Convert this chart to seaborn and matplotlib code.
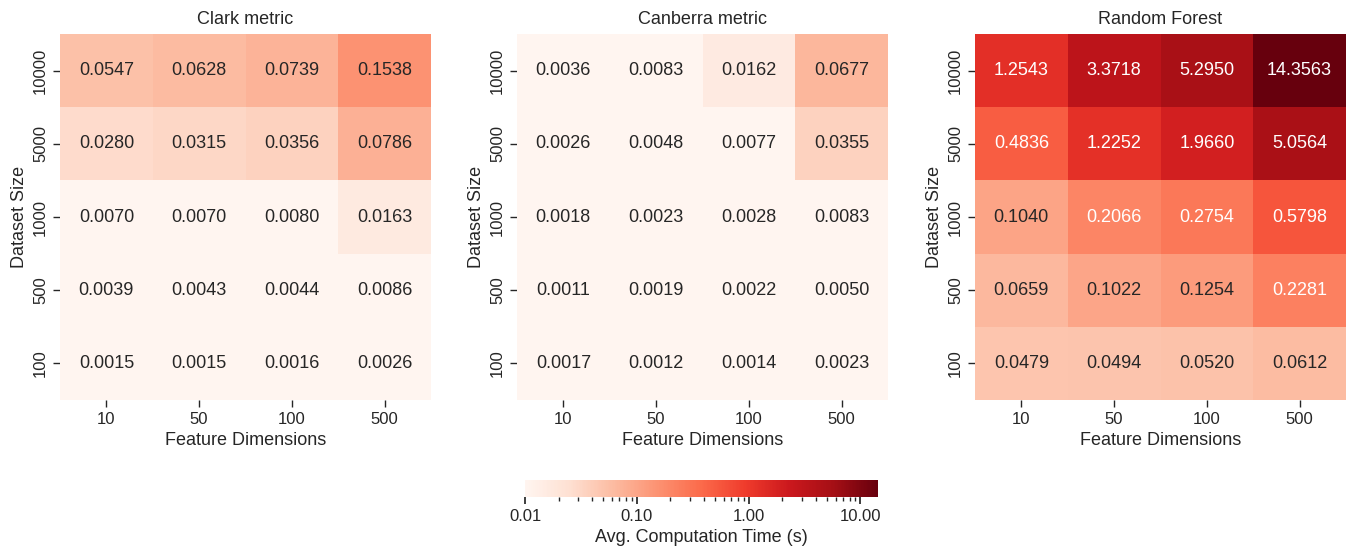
import numpy as np
import pandas as pd
import seaborn as sns
import matplotlib.pyplot as plt
from matplotlib.colors import LogNorm
from matplotlib.ticker import FormatStrFormatter

dataset_sizes = [10000, 5000, 1000, 500, 100]
feature_dims = [10, 50, 100, 500]

clark = [
    [0.0547, 0.0628, 0.0739, 0.1538],
    [0.0280, 0.0315, 0.0356, 0.0786],
    [0.0070, 0.0070, 0.0080, 0.0163],
    [0.0039, 0.0043, 0.0044, 0.0086],
    [0.0015, 0.0015, 0.0016, 0.0026],
]
canberra = [
    [0.0036, 0.0083, 0.0162, 0.0677],
    [0.0026, 0.0048, 0.0077, 0.0355],
    [0.0018, 0.0023, 0.0028, 0.0083],
    [0.0011, 0.0019, 0.0022, 0.0050],
    [0.0017, 0.0012, 0.0014, 0.0023],
]
random_forest = [
    [1.2543, 3.3718, 5.2950, 14.3563],
    [0.4836, 1.2252, 1.9660, 5.0564],
    [0.1040, 0.2066, 0.2754, 0.5798],
    [0.0659, 0.1022, 0.1254, 0.2281],
    [0.0479, 0.0494, 0.0520, 0.0612],
]
titles = ["Clark metric", "Canberra metric", "Random Forest"]

sns.set_theme(style="ticks")
plt.rcParams['font.family'] = ['Liberation Sans', 'DejaVu Sans']

fig = plt.figure(figsize=(13.49, 5.54), dpi=100)
axes = [
    fig.add_axes([60 / 1349, 1 - 400 / 554, 371 / 1349, 366 / 554]),
    fig.add_axes([517 / 1349, 1 - 400 / 554, 371 / 1349, 366 / 554]),
    fig.add_axes([975 / 1349, 1 - 400 / 554, 371 / 1349, 366 / 554]),
]
cax = fig.add_axes([525 / 1349, 1 - 497 / 554, 353 / 1349, 17 / 554])

vmax = max(np.max(clark), np.max(canberra), np.max(random_forest))
norm = LogNorm(vmin=0.01, vmax=vmax)

for i, (ax, vals, title) in enumerate(zip(axes, [clark, canberra, random_forest], titles)):
    df = pd.DataFrame(vals, index=dataset_sizes, columns=feature_dims)
    sns.heatmap(df, ax=ax, cmap="Reds", norm=norm, annot=True, fmt=".4f",
                annot_kws={"fontsize": 13},
                cbar=(i == 0), cbar_ax=cax if i == 0 else None,
                cbar_kws={"orientation": "horizontal"})
    ax.set_title(title, fontsize=13, pad=7)
    ax.set_xlabel("Feature Dimensions", fontsize=13)
    ax.set_ylabel("Dataset Size", fontsize=13)
    ax.tick_params(axis='both', labelsize=12, length=5, width=1)
    plt.setp(ax.get_yticklabels(), rotation=90, va="center")
    plt.setp(ax.get_xticklabels(), rotation=0)

cbar = axes[0].collections[0].colorbar
cbar.outline.set_visible(False)
cax.tick_params(labelsize=12, which='major', length=5)
cax.tick_params(which='minor', length=3)
cax.xaxis.set_major_formatter(FormatStrFormatter("%.2f"))
cax.set_xlabel("Avg. Computation Time (s)", fontsize=13)

plt.savefig("out.png", dpi=100)
